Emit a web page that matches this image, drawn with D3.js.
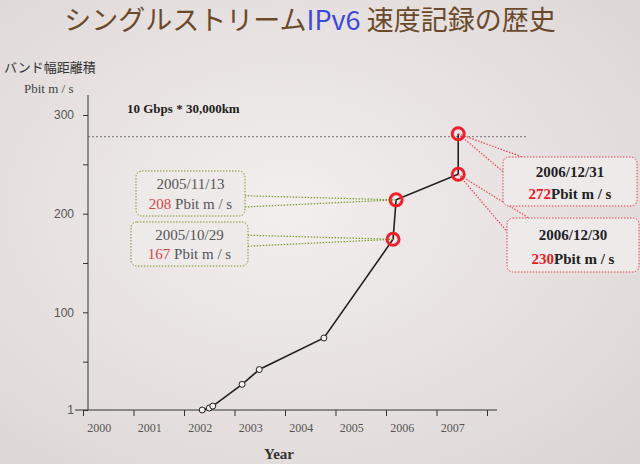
<!DOCTYPE html>
<html><head><meta charset="utf-8">
<script src="https://cdn.jsdelivr.net/npm/d3@7"></script>
<style>
body{margin:0;background:#e9e4e4;}
svg{display:block;font-family:"Liberation Serif",serif;}
</style></head>
<body><svg id="c" width="640" height="464"></svg>
<script>
// 年(小数)と値 — 写真から読み取り
const years = [2002.36, 2002.5, 2002.57, 2003.15, 2003.49, 2004.77, 2006.14, 2006.2, 2007.43, 2007.43];
const values = [1, 3, 5, 27, 42, 74, 174, 214, 240, 281];
const highlight = [false, false, false, false, false, false, true, true, true, true];
const yearLabels = ['2000','2001','2002','2003','2004','2005','2006','2007'];
const yTicks = [1, 100, 200, 300];
const limitValue = 278;
const calloutDates = ['2005/10/29','2005/11/13','2006/12/30','2006/12/31'];
const calloutValues = ['167','208','230','272'];

const svg = d3.select('#c');
const defs = svg.append('defs');
const g = defs.append('radialGradient').attr('id','bg').attr('cx','45%').attr('cy','45%').attr('r','75%');
g.append('stop').attr('offset','0%').attr('stop-color','#f3efee');
g.append('stop').attr('offset','100%').attr('stop-color','#dcd5d5');
svg.append('rect').attr('width',640).attr('height',464).attr('fill','url(#bg)');

const x = d3.scaleLinear().domain([2000, 2008]).range([83, 487]);
const y = d3.scaleLinear().domain([1, 300]).range([410, 115]);

// タイトル
const title = svg.append('text').attr('x',310).attr('y',30).attr('text-anchor','middle')
  .style('font-family','"Noto Sans CJK JP",sans-serif').style('font-size','27px').attr('fill','#6b4a2c');
title.append('tspan').text('シングルストリーム');
title.append('tspan').text('IPv6').attr('fill','#3c49d6');
title.append('tspan').text(' 速度記録の歴史');

svg.append('text').attr('x',4).attr('y',72).text('バンド幅距離積')
  .style('font-family','"Noto Sans CJK JP",sans-serif').style('font-size','13px').attr('fill','#333');
svg.append('text').attr('x',24).attr('y',93).text('Pbit m / s').style('font-size','13px').attr('fill','#444');

// 軸
const yAxis = d3.axisLeft(y).tickValues([1,50,100,150,200,250,300])
  .tickFormat(d => yTicks.includes(d) ? d : '').tickSize(5).tickSizeOuter(0);
svg.append('g').attr('transform','translate(88,0)').call(yAxis)
  .call(a => { a.select('.domain').attr('d','M0,95V410'); a.selectAll('text').style('font-size','12px').attr('fill','#555').attr('dx','-6'); a.selectAll('line,path').attr('stroke','#333'); });

const xAxis = d3.axisBottom(x).tickValues(d3.range(2000, 2009)).tickFormat('').tickSize(6).tickSizeOuter(0);
svg.append('g').attr('transform','translate(0,410)').call(xAxis)
  .call(a => { a.select('.domain').attr('d','M75,0H497'); a.selectAll('line,path').attr('stroke','#333'); });
svg.append('g').selectAll('text').data(yearLabels).join('text')
  .attr('x', d => x(+d + 0.32)).attr('y', 432).attr('text-anchor','middle')
  .style('font-size','12px').attr('fill','#555').text(d => d);
svg.append('text').attr('x',279).attr('y',459).attr('text-anchor','middle')
  .style('font-size','15px').style('font-weight','bold').attr('fill','#333').text('Year');

// 上限線
svg.append('line').attr('x1',88).attr('x2',528).attr('y1',y(limitValue)).attr('y2',y(limitValue))
  .attr('stroke','#555').attr('stroke-dasharray','2,2').attr('stroke-width',0.8);
svg.append('text').attr('x',127).attr('y',113).style('font-size','13px').style('font-weight','bold')
  .attr('fill','#222').text('10 Gbps * 30,000km');

// 系列
const pts = years.map((d, i) => ({yr: d, v: values[i], hl: highlight[i]}));
svg.append('path').datum(pts).attr('fill','none').attr('stroke','#222').attr('stroke-width',1.6)
  .attr('d', d3.line().x(d => x(d.yr)).y(d => y(d.v)));

// 吹き出し
const boxes = [
  {i:6, x:131, y:222, w:117, h:44, c:'#7a9a2a', dc:'#d64545', bold:false, anchorY:[0.3,0.55]},
  {i:7, x:136, y:171, w:109, h:45, c:'#7a9a2a', dc:'#d64545', bold:false, anchorY:[0.55,0.8]},
  {i:8, x:507, y:218, w:132, h:54, c:'#ee4455', dc:'#e51c2a', bold:true, anchorY:[0,0.25]},
  {i:9, x:503, y:157, w:134, h:49, c:'#ee4455', dc:'#e51c2a', bold:true, anchorY:[0,0.3]}
];
boxes.forEach((b, k) => {
  const p = pts[b.i], px = x(p.yr), py = y(p.v);
  const left = b.x > px;
  const ex = left ? b.x : b.x + b.w;
  const grp = svg.append('g');
  b.anchorY.forEach(f => {
    const ey = b.i >= 8 ? (f === 0 ? b.y + 2 : b.y + b.h * f) : b.y + b.h * f;
    grp.append('line').attr('x1',px).attr('y1',py).attr('x2', b.i >= 8 && f === 0 ? b.x + 25 : ex).attr('y2',ey)
      .attr('stroke',b.c).attr('stroke-width',1.2).attr('stroke-dasharray','1.5,1.5');
  });
  grp.append('rect').attr('x',b.x).attr('y',b.y).attr('width',b.w).attr('height',b.h).attr('rx',6)
    .attr('fill','#eeeaea').attr('stroke',b.c).attr('stroke-width',1).attr('stroke-dasharray','1.5,1.5');
  grp.append('text').attr('x',b.x + b.w/2).attr('y',b.y + b.h*0.4).attr('text-anchor','middle')
    .style('font-size','15px').style('font-weight', b.bold ? 'bold' : 'normal')
    .attr('fill', b.bold ? '#222' : '#555').text(calloutDates[k]);
  const t = grp.append('text').attr('x',b.x + b.w/2).attr('y',b.y + b.h*0.85).attr('text-anchor','middle')
    .style('font-size','15px').style('font-weight', b.bold ? 'bold' : 'normal').attr('fill', b.bold ? '#222' : '#555');
  t.append('tspan').attr('fill',b.dc).text(calloutValues[k]);
  t.append('tspan').text(b.bold ? 'Pbit m / s' : ' Pbit m / s');
});

svg.append('g').selectAll('circle').data(pts).join('circle')
  .attr('cx', d => x(d.yr)).attr('cy', d => y(d.v))
  .attr('r', d => d.hl ? 6 : 3)
  .attr('fill', d => d.hl ? 'none' : '#f4f0f0')
  .attr('stroke', d => d.hl ? '#f0202a' : '#222')
  .attr('stroke-width', d => d.hl ? 3 : 1);
</script></body></html>
